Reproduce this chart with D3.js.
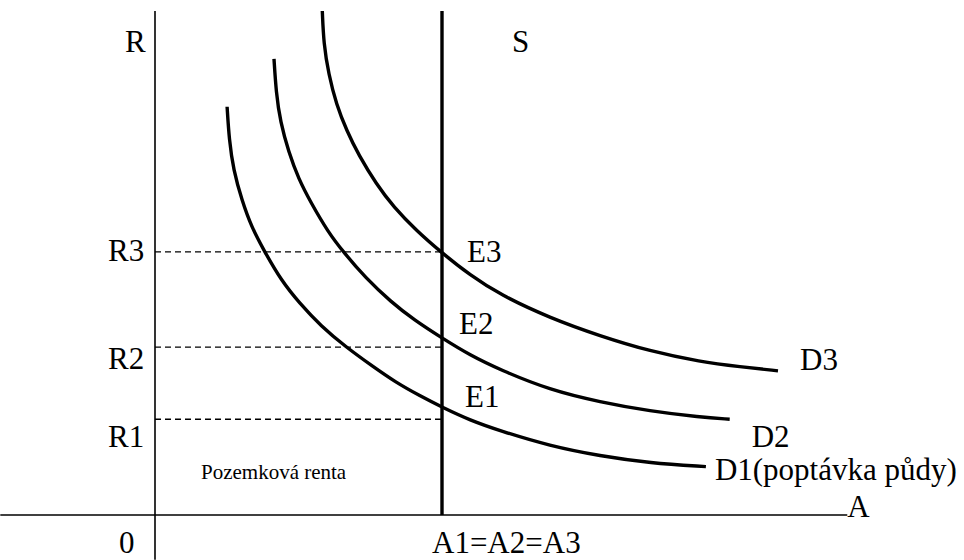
<!DOCTYPE html>
<html>
<head>
<meta charset="utf-8">
<script src="https://cdn.jsdelivr.net/npm/d3@7"></script>
<style>
  html, body { margin: 0; padding: 0; background: #fff; }
  svg { display: block; }
  text { font-family: "Liberation Serif", "Times New Roman", serif; fill: #000; }
</style>
</head>
<body>
<svg id="chart" width="964" height="560"></svg>
<script>
// ---- data (schematic units: A on x, R on y) ----
const d1X = [10.3, 10.6, 11.2, 12.4, 13.8, 15.6, 18.0, 20.6, 23.7, 27.3, 31.0, 34.3, 37.9, 41.0, 45.0, 49.3, 56.4, 63.6, 70.7, 78.7];
const d1Y = [81.0, 74.4, 68.5, 62.5, 57.1, 52.4, 46.6, 42.1, 37.5, 33.3, 29.6, 26.4, 23.6, 21.4, 18.8, 16.7, 13.7, 11.7, 10.3, 9.6];
const d2X = [17.0, 17.3, 17.9, 19.1, 20.5, 22.3, 24.7, 26.9, 30.1, 33.7, 37.0, 41.0, 45.0, 49.3, 56.4, 63.6, 70.7, 77.9, 82.1];
const d2Y = [90.5, 83.9, 78.0, 72.0, 66.7, 61.9, 56.2, 52.2, 47.0, 42.3, 38.7, 35.1, 31.7, 28.8, 24.8, 22.4, 20.6, 19.4, 19.0];
const d3X = [23.9, 24.1, 24.8, 25.9, 27.4, 29.1, 31.6, 34.1, 37.3, 41.0, 45.0, 49.3, 56.4, 63.6, 70.7, 77.9, 83.6, 89.0];
const d3Y = [100.0, 93.5, 87.5, 81.5, 76.2, 71.4, 65.7, 61.1, 56.5, 52.0, 47.6, 43.7, 39.1, 35.5, 32.5, 30.4, 29.4, 28.6];
const supplyA = 41.0;                      // A1 = A2 = A3
const rentLevels = [19.0, 33.3, 52.2];     // R1, R2, R3
const rentLabels = ["R1", "R2", "R3"];
const curveLabels = ["D1(poptávka půdy)", "D2", "D3"];
const eqLabels = ["E1", "E2", "E3"];
const xAxisExtent = [-22.1, 98.9];
const yAxisExtent = [-8.9, 100.0];

// ---- scales ----
const svg = d3.select("#chart");
const x = d3.scaleLinear().domain([0, 100]).range([155, 855]);
const y = d3.scaleLinear().domain([0, 100]).range([515, 11]);

const curves = [
  d3.zip(d1X, d1Y),
  d3.zip(d2X, d2Y),
  d3.zip(d3X, d3Y)
];

// axes
svg.append("line")
  .attr("x1", x(0)).attr("x2", x(0))
  .attr("y1", y(yAxisExtent[1])).attr("y2", y(yAxisExtent[0]))
  .attr("stroke", "#000").attr("stroke-width", 1.6);
svg.append("line")
  .attr("x1", x(xAxisExtent[0])).attr("x2", x(xAxisExtent[1]))
  .attr("y1", y(0)).attr("y2", y(0))
  .attr("stroke", "#000").attr("stroke-width", 1.6);

// dashed rent lines
svg.selectAll("line.rent").data(rentLevels).enter().append("line")
  .attr("class", "rent")
  .attr("x1", x(0)).attr("x2", x(supplyA))
  .attr("y1", d => y(d)).attr("y2", d => y(d))
  .attr("stroke", "#000").attr("stroke-width", 1.3)
  .attr("stroke-dasharray", "6,4");

// supply line
svg.append("line")
  .attr("x1", x(supplyA)).attr("x2", x(supplyA))
  .attr("y1", y(100)).attr("y2", y(0))
  .attr("stroke", "#000").attr("stroke-width", 3.4);

// demand curves
const line = d3.line().x(d => x(d[0])).y(d => y(d[1])).curve(d3.curveBasis);
svg.selectAll("path.demand").data(curves).enter().append("path")
  .attr("class", "demand")
  .attr("d", line)
  .attr("fill", "none").attr("stroke", "#000").attr("stroke-width", 3.4);

// text labels
const fs = 31;
function label(t, px, py, size, anchor) {
  svg.append("text").attr("x", px).attr("y", py)
    .attr("font-size", size).attr("text-anchor", anchor || "start").text(t);
}
label("R", x(0) - 30, y(100) + 41, fs);
label("S", x(supplyA) + 70, y(100) + 41, fs);
rentLabels.forEach((t, i) => label(t, x(0) - 47, y(rentLevels[i]) + [28, 22, 9][i], fs));
label("0", x(0) - 36, y(0) + 38, fs);
label("A1=A2=A3", x(supplyA) - 10, y(0) + 38, fs);
label("A", x(xAxisExtent[1]), y(0) + 2, fs);
eqLabels.forEach((t, i) => {
  const c = curves[i];
  const yy = c.find(p => p[0] === supplyA)[1];
  label(t, x(supplyA) + [23, 17, 25][i], y(yy) + [0, -4, 9][i], fs);
});
curveLabels.forEach((t, i) => {
  const c = curves[i];
  const last = c[c.length - 1];
  label(t, x(last[0]) + [9, 22, 22][i], y(last[1]) + [13, 28, -1][i], fs);
});
label("Pozemková renta", x(0) + 46, y(0) - 36, 21);
</script>
</body>
</html>
